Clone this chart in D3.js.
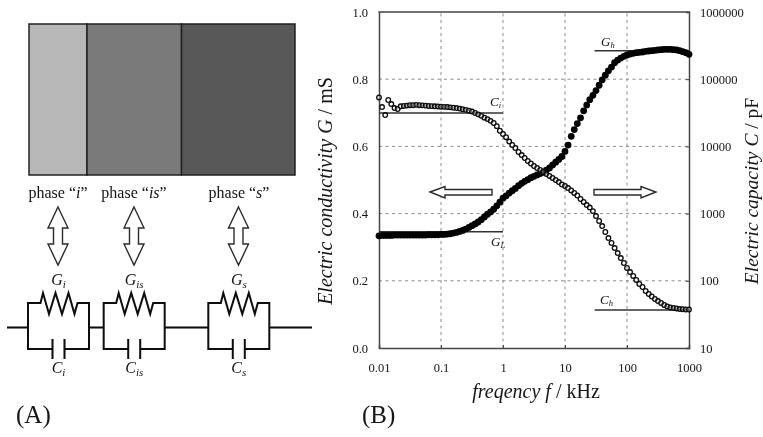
<!DOCTYPE html>
<html><head><meta charset="utf-8">
<script src="https://cdn.jsdelivr.net/npm/d3@7"></script>
<style>html,body{margin:0;padding:0;background:#fff}svg{display:block}text{font-family:"Liberation Serif",serif;fill:#151515}</style>
</head><body><svg id="c" width="763" height="437"></svg>
<script>
const freq=[0.01,0.0112,0.0126,0.0141,0.0158,0.0178,0.02,0.0224,0.0251,0.0282,0.0316,0.0355,0.0398,0.0447,0.0501,0.0562,0.0631,0.0708,0.0794,0.0891,
0.1,0.112,0.126,0.141,0.158,0.178,0.2,0.224,0.251,0.282,0.316,0.355,0.398,0.447,0.501,0.562,0.631,0.708,0.794,0.891,
1,1.12,1.26,1.41,1.58,1.78,2,2.24,2.51,2.82,3.16,3.55,3.98,4.47,5.01,5.62,6.31,7.08,7.94,8.91,
10,11.2,12.6,14.1,15.8,17.8,20,22.4,25.1,28.2,31.6,35.5,39.8,44.7,50.1,56.2,63.1,70.8,79.4,89.1,
100,112,126,141,158,178,200,224,251,282,316,355,398,447,501,562,631,708,794,891,1000];
const conductivity=[.334,.335,.335,.335,.335,.336,.336,.336,.336,.336,.336,.336,.336,.336,.336,.336,.337,.337,.337,.337,
.338,.338,.339,.340,.342,.344,.347,.350,.354,.359,.364,.369,.375,.382,.390,.398,.405,.413,.423,.434,
.446,.453,.461,.468,.475,.483,.490,.496,.501,.507,.511,.515,.519,.523,.529,.536,.545,.553,.561,.570,
.585,.604,.630,.650,.668,.685,.706,.723,.739,.752,.766,.782,.798,.812,.825,.836,.849,.857,.863,.868,
.872,.875,.877,.879,.880,.881,.883,.884,.885,.886,.887,.888,.889,.889,.889,.888,.887,.885,.882,.879,.874];
const capacity=[53500,38500,29300,49000,42700,37200,36000,39500,40000,40500,41000,41000,41500,41000,40800,40500,40000,39800,39500,39300,
39000,38800,38500,38100,37700,37200,36500,35800,35000,34000,33000,31400,30000,28500,26800,25500,24000,22300,20000,17100,
15300,13700,11800,10500,9460,8260,7440,6720,6060,5570,5110,4770,4460,4160,3880,3630,3390,3160,2950,2710,
2580,2400,2210,2030,1860,1650,1490,1340,1230,1090,920,776,653,532,433,365,307,259,218,184,
155,135,118,103,89.6,80.9,70.5,63.6,58.4,53.6,50,46.8,43.7,41.5,40.1,39.4,38.8,38,37.7,37.4,37.4];
const xTicks=[0.01,0.1,1,10,100,1000];
const xTickLabels=["0.01","0.1","1","10","100","1000"];
const gTicks=[0,0.2,0.4,0.6,0.8,1];
const cTicks=[10,100,1000,10000,100000,1000000];
const phases=["i","is","s"];
const phaseWidths=[58,94.5,113.5];
const phaseColors=["#b8b8b8","#7a7a7a","#585858"];

const svg=d3.select("#c");
const defs=svg.append("defs");
defs.append("filter").attr("id","soft")
  .attr("filterUnits","userSpaceOnUse").attr("x",0).attr("y",0).attr("width",763).attr("height",437)
  .append("feGaussianBlur").attr("stdDeviation",0.55);
const root=svg.append("g").attr("filter","url(#soft)");
const ink="#2c2c2c";

// ---------- Panel A ----------
const blockX=d3.scaleLinear().domain([0,d3.sum(phaseWidths)]).range([29,295]);
let acc=0;
phases.forEach((p,i)=>{
  root.append("rect").attr("x",blockX(acc)).attr("y",24).attr("width",blockX(phaseWidths[i])-blockX(0)).attr("height",151)
    .attr("fill",phaseColors[i]).attr("stroke","#222").attr("stroke-width",1.5);
  acc+=phaseWidths[i];
});
const labelX=[58,134,239], arrowX=[58,134,238.5], circuitL=[28,103.7,208.3];
function label(x,y,parts,size){
  const t=root.append("text").attr("x",x).attr("y",y).attr("text-anchor","middle").attr("font-size",size);
  parts.forEach(p=>{const s=t.append("tspan").text(p.t);if(p.i)s.attr("font-style","italic");if(p.sub)s.attr("font-size",size*0.68).attr("dy",p.sub);});
  return t;
}
function vArrow(cx){
  const top=207,bot=265;
  const d=`M${cx},${top}L${cx+10},${top+21}L${cx+4.5},${top+21}L${cx+4.5},${bot-21}L${cx+10},${bot-21}L${cx},${bot}L${cx-10},${bot-21}L${cx-4.5},${bot-21}L${cx-4.5},${top+21}L${cx-10},${top+21}Z`;
  root.append("path").attr("d",d).attr("fill","#fff").attr("stroke",ink).attr("stroke-width",1.4);
}
phases.forEach((p,i)=>{
  label(labelX[i],198,[{t:"phase “"},{t:p,i:true},{t:"”"}],16);
  vArrow(arrowX[i]);
  const L=circuitL[i],R=L+61,T=303,B=349,M=(L+R)/2;
  const wire=root.append("g").attr("fill","none").attr("stroke","#0c0c0c").attr("stroke-width",2);
  wire.append("path").attr("d",`M${L},327.5V${T}H${M-18}L${M-15.5},293L${M-9.5},314L${M-3},293L${M+3.5},314L${M+10},293L${M+16},314L${M+19},${T}H${R}V${B}H${M+6}M${M+6},${B-10}v20M${M-6},${B-10}v20M${M-6},${B}H${L}V327.5`);
  label(M,285,[{t:"G",i:true},{t:p,i:true,sub:3}],16);
  label(M,373,[{t:"C",i:true},{t:p,i:true,sub:3}],16);
});
root.append("path").attr("d","M7,327.5H28M89,327.5H103.7M164.7,327.5H208.3M269.3,327.5H312").attr("stroke","#0c0c0c").attr("stroke-width",2).attr("fill","none");
root.append("text").attr("x",16).attr("y",423).attr("font-size",25).text("(A)");
root.append("text").attr("x",362).attr("y",423).attr("font-size",25).text("(B)");

// ---------- Panel B ----------
const X0=379,X1=689,Y0=348,Y1=12;
const x=d3.scaleLog().domain([0.01,1000]).range([X0,X1]);
const yG=d3.scaleLinear().domain([0,1]).range([Y0,Y1]);
const yC=d3.scaleLog().domain([10,1000000]).range([Y0,Y1]);

const grid=root.append("g").attr("stroke","#8a8a8a").attr("stroke-width",1).attr("stroke-dasharray","3 3.5");
grid.selectAll("line.h").data(gTicks.slice(1,-1)).join("line").attr("x1",X0).attr("x2",X1).attr("y1",yG).attr("y2",yG);
grid.selectAll("line.v").data(xTicks.slice(1,-1)).join("line").attr("y1",Y0).attr("y2",Y1).attr("x1",x).attr("x2",x);

const axL=root.append("g").attr("transform",`translate(${X0},0)`).call(d3.axisLeft(yG).tickValues(gTicks).tickFormat(d3.format(".1f")).tickSize(0).tickPadding(11));
const axR=root.append("g").attr("transform",`translate(${X1},0)`).call(d3.axisRight(yC).tickValues(cTicks).tickFormat(d3.format("d")).tickSize(-3).tickPadding(11));
const axB=root.append("g").attr("transform",`translate(0,${Y0})`).call(d3.axisBottom(x).tickValues(xTicks).tickFormat((d,i)=>xTickLabels[i]).tickSize(-3).tickPadding(15));
root.append("line").attr("x1",X0-0.7).attr("x2",X1+0.7).attr("y1",Y1).attr("y2",Y1).attr("stroke","#444").attr("stroke-width",1.5);
[axL,axR,axB].forEach(a=>{
  a.selectAll("text").attr("font-size",12.5).attr("font-family","Liberation Serif");
  a.selectAll("path.domain").attr("stroke","#444").attr("stroke-width",1.5);
  a.selectAll("line").attr("stroke","#444");
});

// reference lines
const refs=[
 {x1:0.01,x2:1,y:yC(31350)},
 {x1:0.01,x2:1,y:yG(0.346)},
 {x1:30,x2:1000,y:yG(0.885)},
 {x1:30,x2:1000,y:yC(36.7)}];
root.append("g").selectAll("line").data(refs).join("line").attr("x1",d=>x(d.x1)).attr("x2",d=>x(d.x2)).attr("y1",d=>d.y).attr("y2",d=>d.y).attr("stroke","#333").attr("stroke-width",1.5);

// series
root.append("g").selectAll("circle").data(freq).join("circle")
  .attr("cx",d=>x(d)).attr("cy",(d,i)=>yG(conductivity[i])).attr("r",3.4).attr("fill","#050505");
root.append("g").selectAll("circle").data(freq).join("circle")
  .attr("cx",d=>x(d)).attr("cy",(d,i)=>yC(capacity[i])).attr("r",2.3).attr("fill","#fff").attr("fill-opacity",0.3).attr("stroke","#0a0a0a").attr("stroke-width",1.3);

function small(xp,yp,a,b){
  const t=root.append("text").attr("x",xp).attr("y",yp).attr("font-size",13).attr("font-style","italic");
  t.append("tspan").text(a);t.append("tspan").attr("font-size",8.5).attr("dy",2).text(b);
}
small(490,106,"C","i");small(491,246,"G","L");small(601,46,"G","h");small(600,304,"C","h");

// horizontal arrows
root.append("path").attr("d","M430,192L445,186.5V189.5H492V195H445V198Z").attr("fill","#fff").attr("stroke",ink).attr("stroke-width",1.4);
root.append("path").attr("d","M594,189.5H641V186.5L656,192L641,198V195H594Z").attr("fill","#fff").attr("stroke",ink).attr("stroke-width",1.4);

// titles
function title(t,parts,size){
  const e=root.append("text").attr("transform",t).attr("text-anchor","middle").attr("font-size",size);
  parts.forEach(p=>{const s=e.append("tspan").text(p[0]);if(p[1])s.attr("font-style","italic");});
}
title("translate(536,398)",[["freqency f",1],[" / kHz",0]],20);
title("translate(332,191) rotate(-90)",[["Electric conductivity G",1],[" / mS",0]],20);
title("translate(758,191) rotate(-90)",[["Electric capacity C",1],[" / pF",0]],19.5);
</script></body></html>
